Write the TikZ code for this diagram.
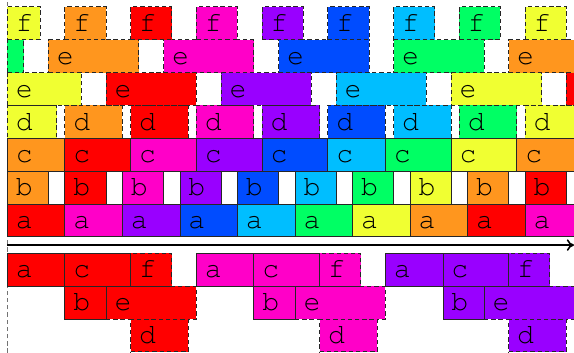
\documentclass[tikz,border=0pt]{standalone}
\usepackage{tikz}
\usetikzlibrary{arrows.meta, positioning}
\definecolor{hue0}{RGB}{255,0,0}
\definecolor{hue1}{RGB}{255,0,200}
\definecolor{hue2}{RGB}{153,0,255}
\definecolor{hue3}{RGB}{0,76,255}
\definecolor{hue4}{RGB}{0,190,255}
\definecolor{hue5}{RGB}{0,255,100}
\definecolor{hue6}{RGB}{240,255,50}
\definecolor{hue7}{RGB}{255,150,30}
\tikzset{
  slot/.style={draw=black!85, line width=0.6pt, minimum height=0.8cm, inner sep=0pt, outer sep=0pt, anchor=south west},
  spec/.style={slot, dash pattern=on 3pt off 2pt},
  tag/.style={anchor=base west, inner sep=0pt, font=\fontencoding{T1}\fontfamily{pcr}\fontsize{19.5}{20}\selectfont},
}
% #1 name, #2 style, #3 x, #4 y, #5 length, #6 colour, #7 letter
\newcommand{\opbox}[7]{%
  \node[#2, fill=#6, minimum width=#5 cm] (#1) at (#3,#4) {};
  \node[tag] (#1-t) at ([shift={(0.2cm,0.2cm)}]#1.south west) {#7};}

\begin{document}
\begin{tikzpicture}
\useasboundingbox (-0.18,-0.02) rectangle (13.79,8.565);
\clip (-0.18,-0.02) rectangle (13.79,8.565);

% time zero
\coordinate (t0) at (0,-0.02);
\coordinate (t1) at (0,8.565);
\draw[black!55, line width=0.6pt, dash pattern=on 3pt off 2pt] (t0) -- (t1);

% pipelined schedule
\foreach \i in {0,...,9} {
  \pgfmathtruncatemacro\hu{mod(\i,8)}
  \opbox{a\i}{slot}{1.4*\i}{2.8}{1.4}{hue\hu}{a}
  \pgfmathtruncatemacro\hu{mod(\i+7,8)}
  \opbox{b\i}{slot}{1.4*\i}{3.6}{1.0}{hue\hu}{b}
}
\foreach \xs/\ws/\hu [count=\n] in {0/1.4/7, 1.4/1.6/0, 3.0/1.6/1, 4.6/1.6/2, 6.2/1.6/3,
    7.8/1.4/4, 9.2/1.6/5, 10.8/1.6/6, 12.4/1.6/7}
  \opbox{c\n}{slot}{\xs}{4.4}{\ws}{hue\hu}{c};
\foreach \xs/\ws/\hu [count=\n] in {0/1.2/6, 1.4/1.4/7, 3.0/1.4/0, 4.6/1.4/1, 6.2/1.4/2,
    7.8/1.4/3, 9.4/1.4/4, 11.0/1.4/5, 12.6/1.4/6}
  \opbox{d\n}{spec}{\xs}{5.2}{\ws}{hue\hu}{d};
\foreach \xs/\ws/\hu [count=\n] in {0/1.8/6, 2.4/2.2/0, 5.2/2.2/2, 8.0/2.2/4, 10.8/2.2/6}
  \opbox{e\n}{spec}{\xs}{6.0}{\ws}{hue\hu}{e};
\opbox{e6}{spec}{13.6}{6.0}{2.2}{hue0}{}
\opbox{ee0}{spec}{0}{6.8}{0.4}{hue5}{}
\foreach \xs/\hu [count=\n] in {1.0/7, 3.8/1, 6.6/3, 9.4/5, 12.2/7}
  \opbox{ee\n}{spec}{\xs}{6.8}{2.2}{hue\hu}{e};
\foreach \xs/\ws/\hu [count=\n] in {0/0.8/6, 1.4/1.0/7, 3.0/1.0/0, 4.6/1.0/1, 6.2/1.0/2,
    7.8/1.0/3, 9.4/1.0/4, 11.0/1.0/5, 12.6/1.0/6}
  \opbox{f\n}{spec}{\xs}{7.6}{\ws}{hue\hu}{f};

% time axis
\coordinate (ax0) at (0,2.6);
\coordinate (ax1) at (13.79,2.6);
\draw[line width=1.1pt, -{To[length=5pt,width=8pt]}] (ax0) -- (ax1);

% one iteration after another
\foreach \s/\hu [count=\k] in {0/0, 4.6/1, 9.2/2} {
  \opbox{pe\k}{spec}{\s+2.4}{0.8}{2.2}{hue\hu}{e}
  \opbox{pb\k}{slot}{\s+1.4}{0.8}{1.0}{hue\hu}{b}
  \opbox{pd\k}{spec}{\s+3.0}{0}{1.4}{hue\hu}{d}
  \opbox{pa\k}{slot}{\s}{1.6}{1.4}{hue\hu}{a}
  \opbox{pc\k}{slot}{\s+1.4}{1.6}{1.6}{hue\hu}{c}
  \opbox{pf\k}{spec}{\s+3.0}{1.6}{1.0}{hue\hu}{f}
}
\end{tikzpicture}
\end{document}
